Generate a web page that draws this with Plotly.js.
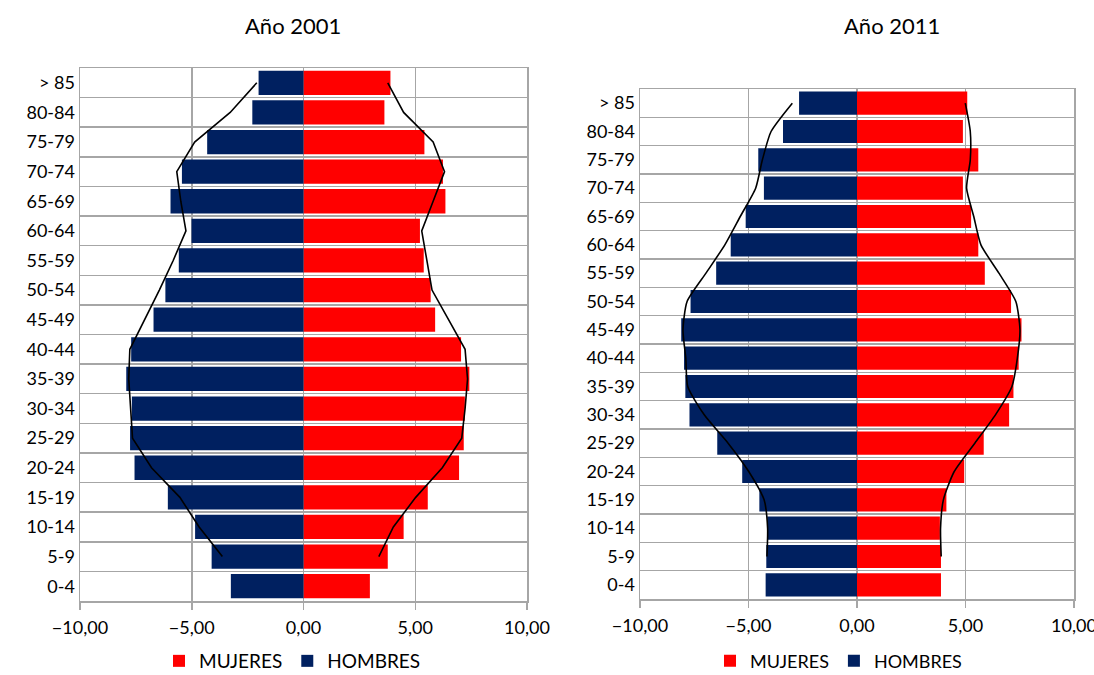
<!DOCTYPE html>
<html>
<head>
<meta charset="utf-8">
<script src="https://cdn.plot.ly/plotly-3.0.1.min.js"></script>
<style>html,body{margin:0;padding:0;background:#fff}#chart{width:1094px;height:675px}</style>
</head>
<body>
<div id="chart"></div>
<script>
// Age groups, bottom to top
const ageGroups = ["0-4","5-9","10-14","15-19","20-24","25-29","30-34","35-39","40-44","45-49","50-54","55-59","60-64","65-69","70-74","75-79","80-84","> 85"];
const lineGroups = ageGroups.slice(1);

// Año 2001 (%)
const mujeres2001 = [2.97,3.77,4.48,5.56,6.96,7.17,7.22,7.42,7.05,5.89,5.69,5.38,5.21,6.35,6.24,5.41,3.62,3.89];
const hombres2001 = [-3.25,-4.11,-4.85,-6.07,-7.56,-7.76,-7.68,-7.93,-7.71,-6.71,-6.18,-5.58,-5.01,-5.95,-5.44,-4.31,-2.29,-2.01];
const lineaM2001 = [3.37,4.02,5.02,6.21,7.08,7.23,7.34,7.23,6.49,5.75,5.52,5.29,5.80,6.31,5.80,4.48,3.77];
const lineaH2001 = [-3.63,-4.67,-5.53,-6.80,-7.65,-7.73,-7.82,-7.77,-7.11,-6.45,-5.83,-5.26,-5.49,-5.67,-4.87,-3.28,-2.09];

// Año 2011 (%)
const mujeres2011 = [3.87,3.87,3.82,4.12,4.94,5.84,7.01,7.21,7.45,7.58,7.10,5.89,5.59,5.26,4.88,5.59,4.88,5.08];
const hombres2011 = [-4.21,-4.18,-4.14,-4.50,-5.29,-6.44,-7.72,-7.91,-7.97,-8.10,-7.67,-6.49,-5.82,-5.13,-4.29,-4.55,-3.41,-2.67];
const lineaM2011 = [3.88,3.85,3.98,4.48,5.43,6.38,7.14,7.39,7.51,7.32,6.54,5.71,5.38,5.05,5.22,5.22,4.99];
const lineaH2011 = [-4.15,-4.12,-4.28,-4.99,-5.94,-7.04,-7.80,-7.89,-8.02,-7.83,-6.96,-6.09,-5.38,-4.67,-4.36,-3.96,-2.98];

const xTicks = [-10,-5,0,5,10];
const RED = "#FF0000", NAVY = "#002060";
const FONT = "Lato, 'Open Sans', sans-serif";

const traces = [
  {type:"bar", orientation:"h", y:ageGroups, x:mujeres2001, name:"MUJERES", marker:{color:RED}, xaxis:"x", yaxis:"y", legend:"legend"},
  {type:"bar", orientation:"h", y:ageGroups, x:hombres2001, name:"HOMBRES", marker:{color:NAVY}, xaxis:"x", yaxis:"y", legend:"legend"},
  {type:"scatter", mode:"lines", y:lineGroups, x:lineaM2001, line:{color:"#000",width:1.6}, showlegend:false, xaxis:"x", yaxis:"y"},
  {type:"scatter", mode:"lines", y:lineGroups, x:lineaH2001, line:{color:"#000",width:1.6}, showlegend:false, xaxis:"x", yaxis:"y"},
  {type:"bar", orientation:"h", y:ageGroups, x:mujeres2011, name:"MUJERES", marker:{color:RED}, xaxis:"x2", yaxis:"y2", legend:"legend2"},
  {type:"bar", orientation:"h", y:ageGroups, x:hombres2011, name:"HOMBRES", marker:{color:NAVY}, xaxis:"x2", yaxis:"y2", legend:"legend2"},
  {type:"scatter", mode:"lines", y:lineGroups, x:lineaM2011, line:{color:"#000",width:1.6,shape:"spline",smoothing:0.6}, showlegend:false, xaxis:"x2", yaxis:"y2"},
  {type:"scatter", mode:"lines", y:lineGroups, x:lineaH2011, line:{color:"#000",width:1.6,shape:"spline",smoothing:0.6}, showlegend:false, xaxis:"x2", yaxis:"y2"}
];

const GRID = "#a6a6a6";
function xax(domain, anchor){
  return {domain:domain, anchor:anchor, range:[-10,10], tickvals:xTicks, tickformat:".2f",
    showgrid:true, gridcolor:GRID, gridwidth:1.5, zeroline:true, zerolinecolor:GRID, zerolinewidth:1.5,
    showline:true, linecolor:GRID, linewidth:1.5, mirror:true,
    ticks:"outside", ticklen:7, tickcolor:GRID, tickwidth:1.5, ticklabelstandoff:3,
    ticklabeloverflow:"allow", automargin:false,
    tickfont:{family:FONT, size:18, color:"#000"}, fixedrange:true};
}
function yax(domain, anchor){
  return {domain:domain, anchor:anchor, type:"category", categoryorder:"array", categoryarray:ageGroups,
    range:[-0.5, ageGroups.length - 0.5], autorange:false,
    tickson:"boundaries", showgrid:true, gridcolor:GRID, gridwidth:1.5,
    showline:true, linecolor:GRID, linewidth:1.5, mirror:true,
    ticks:"outside", ticklen:12, tickcolor:"rgba(0,0,0,0)", automargin:false,
    tickfont:{family:FONT, size:18, color:"#000"}, fixedrange:true};
}

const layout = {
  width:1094, height:675,
  margin:{l:0,r:0,t:0,b:0, autoexpand:false},
  paper_bgcolor:"#fff", plot_bgcolor:"#fff",
  separators:",.",
  barmode:"overlay", bargap:0.18,
  font:{family:FONT, color:"#000"},
  xaxis: xax([80/1094, 527/1094], "y"),
  yaxis: yax([74/675, 607/675], "x"),
  xaxis2: xax([640/1094, 1074/1094], "y2"),
  yaxis2: yax([76/675, 586/675], "x2"),
  legend:{orientation:"h", xref:"container", yref:"container", x:159/1094, y:(675-661)/675, xanchor:"left", yanchor:"middle",
    font:{family:FONT, size:19, color:"#000"}, traceorder:"normal", itemwidth:30, bgcolor:"rgba(0,0,0,0)"},
  legend2:{orientation:"h", xref:"container", yref:"container", x:710/1094, y:(675-661)/675, xanchor:"left", yanchor:"middle",
    font:{family:FONT, size:18, color:"#000"}, traceorder:"normal", itemwidth:30, bgcolor:"rgba(0,0,0,0)"},
  annotations:[
    {text:"Año 2001", x:293/1094, y:(675-26)/675, xref:"paper", yref:"paper", showarrow:false, xanchor:"center", yanchor:"middle", font:{family:FONT, size:22, color:"#000"}},
    {text:"Año 2011", x:892/1094, y:(675-26)/675, xref:"paper", yref:"paper", showarrow:false, xanchor:"center", yanchor:"middle", font:{family:FONT, size:22, color:"#000"}}
  ],
  showlegend:true
};

Plotly.newPlot("chart", traces, layout, {displayModeBar:false, staticPlot:true});
</script>
</body>
</html>
